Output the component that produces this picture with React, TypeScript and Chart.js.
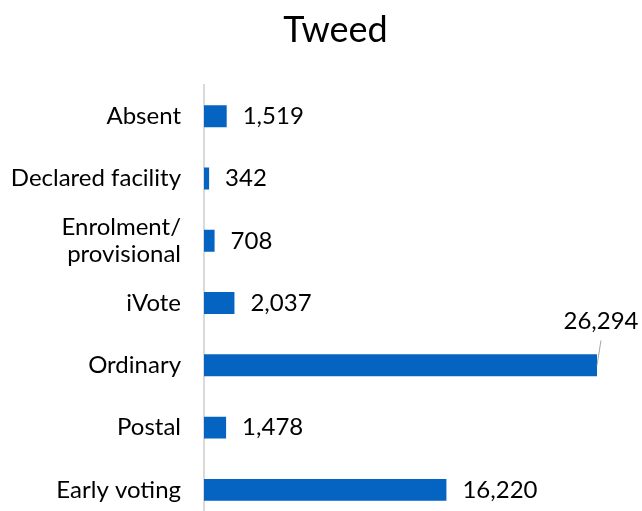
import React, { useEffect, useRef } from "react";
import { Chart, registerables } from "chart.js";

Chart.register(...registerables);

const titleText = "Tweed";
const categories: (string | string[])[] = [
  "Absent",
  "Declared facility",
  ["Enrolment/", "provisional"],
  "iVote",
  "Ordinary",
  "Postal",
  "Early voting",
];
const votes = [1519, 342, 708, 2037, 26294, 1478, 16220];
const xMax = 28000;

const FONT = "Lato, 'Noto Sans', sans-serif";

const titlePlugin = {
  id: "centredTitle",
  afterDraw(chart: any) {
    const ctx = chart.ctx;
    ctx.save();
    ctx.font = `36px ${FONT}`;
    ctx.fillStyle = "#000000";
    ctx.textAlign = "center";
    ctx.textBaseline = "middle";
    ctx.fillText(titleText, 335.5, 30.6);
    ctx.restore();
  },
};

const labelPlugin = {
  id: "valueLabels",
  afterDatasetsDraw(chart: any) {
    const ctx = chart.ctx;
    const meta = chart.getDatasetMeta(0);
    const data = chart.data.datasets[0].data as number[];
    ctx.save();
    ctx.font = `24px ${FONT}`;
    ctx.fillStyle = "#000000";
    ctx.textBaseline = "middle";
    meta.data.forEach((bar: any, i: number) => {
      const text = data[i].toLocaleString("en-US");
      if (bar.x > chart.chartArea.right - 60) {
        ctx.strokeStyle = "#a6a6a6";
        ctx.lineWidth = 1;
        ctx.beginPath();
        ctx.moveTo(bar.x, bar.y);
        ctx.lineTo(bar.x + 4, bar.y - 25);
        ctx.stroke();
        ctx.textAlign = "center";
        ctx.fillText(text, bar.x + 4, bar.y - 44);
      } else {
        ctx.textAlign = "left";
        ctx.fillText(text, bar.x + 16, bar.y);
      }
    });
    ctx.restore();
  },
};

export default function App() {
  const ref = useRef<HTMLCanvasElement | null>(null);
  useEffect(() => {
    if (!ref.current) return;
    const chart = new Chart(ref.current, {
      type: "bar",
      data: {
        labels: categories,
        datasets: [
          {
            data: votes,
            backgroundColor: "#0563c1",
            barPercentage: 0.353,
            categoryPercentage: 1,
          },
        ],
      },
      options: {
        indexAxis: "y",
        animation: false,
        responsive: true,
        maintainAspectRatio: false,
        layout: { padding: { left: 0, right: 19.5, top: 85.2, bottom: 0 } },
        plugins: {
          legend: { display: false },
          tooltip: { enabled: false },
          title: { display: false },
        },
        scales: {
          x: { display: false, min: 0, max: xMax },
          y: {
            afterFit: (scale: any) => {
              scale.width = 204;
              scale.paddingTop = 0;
              scale.paddingBottom = 0;
            },
            grid: { display: false, drawTicks: false },
            border: { display: true, color: "#d9d9d9", width: 2 },
            ticks: {
              color: "#000000",
              padding: 23,
              autoSkip: false,
              font: { family: FONT, size: 24, lineHeight: 1.15 },
            },
          },
        },
      },
      plugins: [labelPlugin, titlePlugin],
    });
    return () => chart.destroy();
  }, []);
  return (
    <div
      style={{
        position: "fixed",
        left: 0,
        top: 0,
        width: 642,
        height: 511,
        overflow: "hidden",
        background: "#ffffff",
      }}
    >
      <div style={{ position: "relative", width: 642, height: 521 }}>
        <canvas ref={ref} />
      </div>
    </div>
  );
}
